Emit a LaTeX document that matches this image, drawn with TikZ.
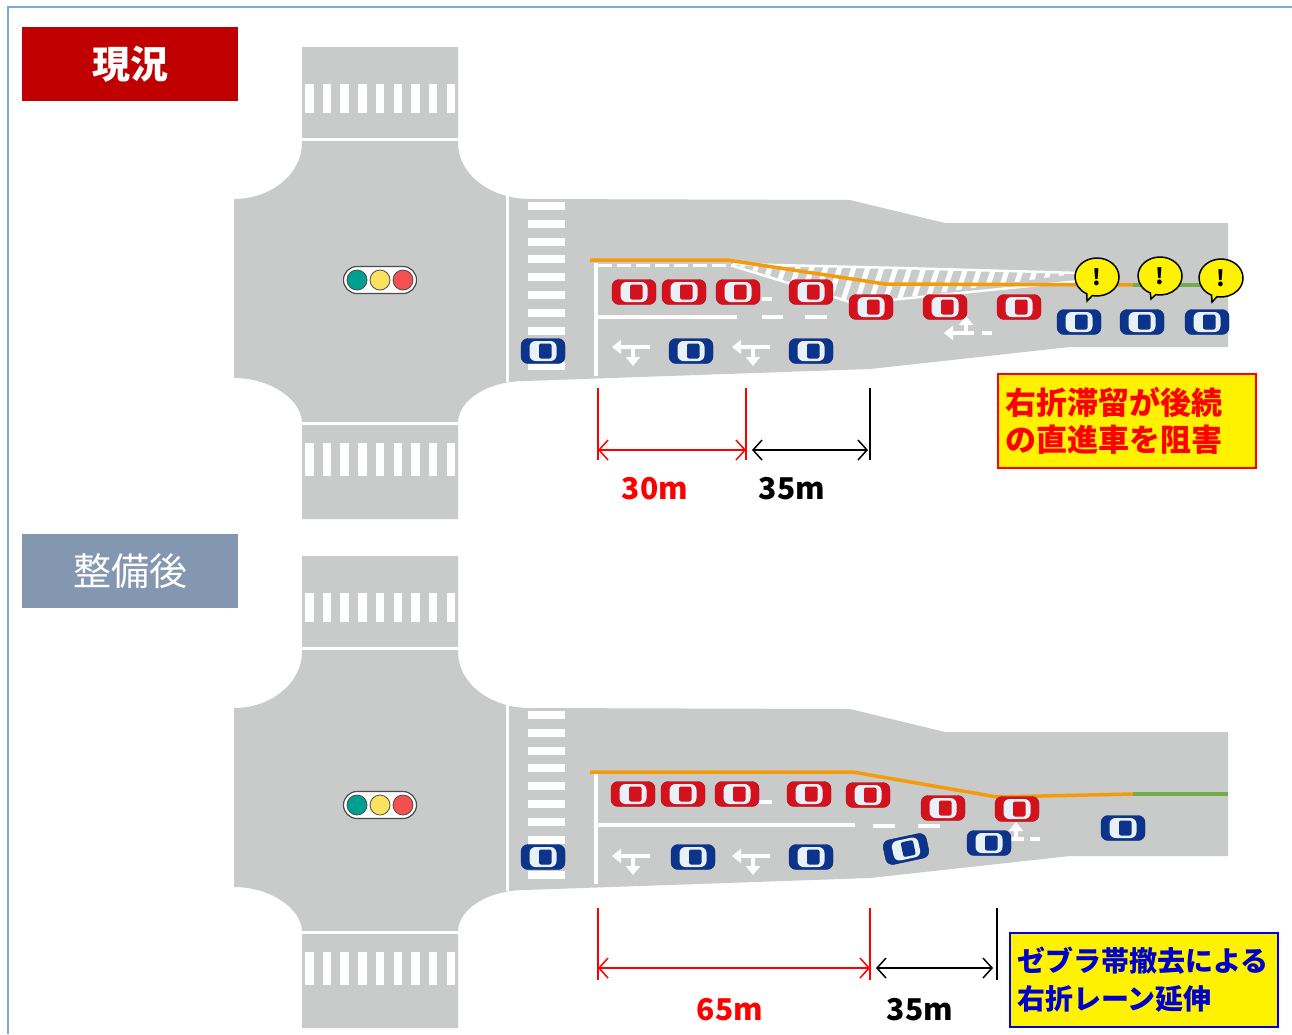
\documentclass[tikz,border=0pt]{standalone}
\usepackage{fontspec}
\setmainfont{Noto Sans CJK JP}
\usetikzlibrary{arrows.meta,shapes.callouts}

\definecolor{road}{RGB}{201,202,202}
\definecolor{carred}{RGB}{212,18,30}
\definecolor{carblue}{RGB}{12,52,140}
\definecolor{glass}{RGB}{232,240,248}
\definecolor{queue}{RGB}{245,155,10}
\definecolor{lanegreen}{RGB}{112,173,71}
\definecolor{nowred}{RGB}{192,0,0}
\definecolor{afterblue}{RGB}{132,151,176}
\definecolor{frameblue}{RGB}{125,168,215}
\definecolor{sigGreen}{RGB}{0,160,145}
\definecolor{sigYellow}{RGB}{250,225,95}
\definecolor{sigRed}{RGB}{245,80,80}

\begin{document}
\begin{tikzpicture}[x=1pt,y=-1pt,
  pics/car/.style={code={
    \draw[fill=#1,draw=#1!75!black,rounded corners=7pt] (-22,-12.5) rectangle (22,12.5);
    \fill[glass,rounded corners=6pt] (-13.5,-10) rectangle (13.5,10);
    \fill[#1,rounded corners=2pt] (-4,-7.5) rectangle (8.5,7.5);
  }},
  paint/.style={white,line width=3.5},
  roadarrow/.style={white,line width=4,-{Triangle[width=14pt,length=9pt]}},
  lamp/.style={circle,draw=black!70,line width=0.8,minimum size=20pt,inner sep=0},
  warn/.style={ellipse callout,draw=black,line width=1.5,fill=yellow,minimum width=44pt,
    minimum height=38pt,inner sep=0,font=\bfseries\fontsize{22}{22}\selectfont},
  dim/.style={line width=1.5,{Straight Barb[length=9pt,width=20pt]}-{Straight Barb[length=9pt,width=20pt]}},
  dimlabel/.style={font=\bfseries\fontsize{30}{30}\selectfont},
  note/.style={line width=1.8,fill=yellow,align=left,inner xsep=7pt,font=\bfseries}]
\useasboundingbox (0,0) rectangle (1292,1034);
\draw[frameblue,line width=1.5] (8,1034) -- (8,7) -- (1292,7);

% Intersection and approach, drawn for both layouts
\foreach \dy in {0,509} {
\begin{scope}[shift={(0,\dy)}]
\fill[road] (302,47) -- (458,47) -- (458,143) .. controls (458,174) and (490,199) .. (530,199)
  -- (850,200) -- (945,223) -- (1228,223) -- (1228,347) -- (1070,347) -- (870,369) -- (525,381)
  .. controls (488,381) and (458,400) .. (458,423) -- (458,519) -- (302,519) -- (302,423)
  .. controls (302,400) and (271,378) .. (234,378) -- (234,199)
  .. controls (271,199) and (302,174) .. (302,143) -- cycle;

% crosswalks
\foreach \i in {0,...,8} {
  \fill[white] ({305+17.7*\i},84) rectangle ++(8.5,29);
  \fill[white] ({305+17.7*\i},443) rectangle ++(8.5,33);
}
\foreach \j in {0,...,9}
  \fill[white] (528,{202+17.8*\j}) rectangle ++(37,8);
\draw[white,line width=3] (302,139) -- (458,139);
\draw[white,line width=3] (302,423) -- (458,423);
\draw[white,line width=3] (507,194) -- (507,382);

% straight / left-turn arrows
\foreach \x in {650,770} {
  \draw[roadarrow] (\x,347) -- (\x-38,347);
  \draw[roadarrow] (\x-17,347) -- (\x-17,366);
}
\end{scope}
}

% Current layout
\node[fill=nowred,minimum width=216pt,minimum height=74pt,text=white,
  font=\bfseries\fontsize{38}{38}\selectfont] (nowTitle) at (130,64) {現況};

\node[draw=black!70,fill=white,line width=1.2,rounded corners=13.5pt,minimum width=73pt,minimum height=27pt] (sigA) at (380,280) {};
\node[lamp,fill=sigGreen] (sigAg) at (357,280) {};
\node[lamp,fill=sigYellow] (sigAy) at (380,280) {};
\node[lamp,fill=sigRed] (sigAr) at (403,280) {};

\draw[white,line width=3,dash pattern=on 14pt off 5pt] (598,265) -- (733,265);
% zebra area
\begin{scope}
\clip (733,264) -- (900,268) -- (1080,273) -- (880,301) -- (850,302) -- cycle;
\foreach \i in {0,...,27}
  \draw[white,line width=5] ({700+14*\i},310) -- ({718+14*\i},255);
\end{scope}
\draw[white,line width=2.5] (733,264) -- (900,268) -- (1080,273);
\draw[white,line width=2.5] (733,266) -- (850,302) -- (880,301) -- (1080,281);

\draw[paint] (596,263) -- (596,376);
\draw[paint] (598,317) -- (737,317);
\draw[paint] (762,317) -- (783,317);
\draw[paint] (805,317) -- (827,317);
\draw[paint] (762,299) -- (772,299);
\draw[roadarrow] (974,333) -- (944,333);
\draw[roadarrow] (966,333) -- (966,316);
\draw[paint] (982,333) -- (992,333);

\draw[queue,line width=3.5] (590,260) -- (727,260) -- (885,284) -- (1133,285);
\draw[lanegreen,line width=3.5] (1133,285) -- (1228,285);

\foreach \x/\y in {634/292,684/292,738/292,811/292,871/307,945/307,1019/307}
  \pic at (\x,\y) {car=carred};
\foreach \x/\y in {543/351,691/351,811/351,1079/322,1142/322,1207/322}
  \pic at (\x,\y) {car=carblue};

\node[warn,callout absolute pointer={(1087,301)}] (warnA) at (1097,277) {!};
\node[warn,callout absolute pointer={(1151,299)}] (warnB) at (1160,276) {!};
\node[warn,callout absolute pointer={(1212,302)}] (warnC) at (1221,278) {!};

\coordinate (a0) at (598,450);
\coordinate (a1) at (746,450);
\coordinate (a2) at (870,450);
\draw[red,line width=1.5] (598,388) -- (598,460);
\draw[red,line width=1.5] (746,388) -- (746,460);
\draw[black,line width=1.5] (870,388) -- (870,460);
\draw[dim,red] (a0) -- (a1);
\draw[dim,black] ([xshift=6pt]a1) -- ([xshift=-2pt]a2);
\node[dimlabel,red] (lenA) at (655,489) {30m};
\node[dimlabel] (lenB) at (792,489) {35m};

\node[note,draw=red,text=red,text width=244pt,minimum height=94pt,
  font=\bfseries\fontsize{31}{37}\selectfont] (noteA) at (1127,421) {右折滞留が後続\\の直進車を阻害};

% After improvement
\node[fill=afterblue,minimum width=216pt,minimum height=74pt,text=white,
  font=\fontsize{38}{38}\selectfont] (afterTitle) at (130,571) {整備後};

\node[draw=black!70,fill=white,line width=1.2,rounded corners=13.5pt,minimum width=73pt,minimum height=27pt] (sigB) at (380,805) {};
\node[lamp,fill=sigGreen] (sigBg) at (357,805) {};
\node[lamp,fill=sigYellow] (sigBy) at (380,805) {};
\node[lamp,fill=sigRed] (sigBr) at (403,805) {};

\draw[paint] (596,772) -- (596,884);
\draw[paint] (598,825) -- (855,825);
\draw[paint] (873,826) -- (895,826);
\draw[paint] (918,826) -- (940,826);
\draw[paint] (758,802) -- (772,802);
\draw[roadarrow] (1024,839) -- (994,839);
\draw[roadarrow] (1016,839) -- (1016,822);
\draw[paint] (1030,839) -- (1040,839);

\draw[queue,line width=3.5] (590,772) -- (853,772) -- (997,797) -- (1133,794);
\draw[lanegreen,line width=3.5] (1133,794) -- (1228,794);

\foreach \x/\y in {633/794,683/794,737/794,809/794,868/795,943/808,1017/809}
  \pic at (\x,\y) {car=carred};
\foreach \x/\y in {543/857,693/857,811/857,989/843,1123/828}
  \pic at (\x,\y) {car=carblue};
\pic[rotate=12] at (906,849) {car=carblue};

\coordinate (b0) at (598,968);
\coordinate (b1) at (870,968);
\coordinate (b2) at (997,968);
\draw[red,line width=1.5] (598,908) -- (598,980);
\draw[red,line width=1.5] (870,908) -- (870,980);
\draw[black,line width=1.5] (997,908) -- (997,980);
\draw[dim,red] (b0) -- (b1);
\draw[dim,black] ([xshift=6pt]b1) -- ([xshift=-4pt]b2);
\node[dimlabel,red] (lenC) at (730,1010) {65m};
\node[dimlabel] (lenD) at (920,1010) {35m};

\node[note,draw=blue!90!black,text=blue!80!black,text width=254pt,minimum height=94pt,
  font=\bfseries\fontsize{28}{38}\selectfont] (noteB) at (1144,980) {ゼブラ帯撤去による\\右折レーン延伸};
\end{tikzpicture}
\end{document}
